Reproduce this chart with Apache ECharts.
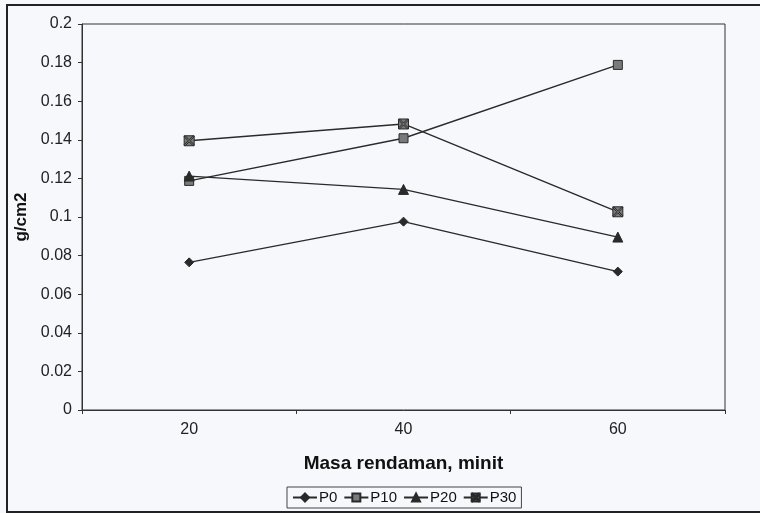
<!DOCTYPE html>
<html>
<head>
<meta charset="utf-8">
<script src="https://cdn.jsdelivr.net/npm/echarts@6/dist/echarts.min.js"></script>
<style>
html,body{margin:0;padding:0;background:#f6f8fb;}
#c{width:760px;height:513px;}
</style>
</head>
<body>
<div id="c"></div>
<script>
var categories = ['20', '40', '60'];
var seriesNames = ['P0', 'P10', 'P20', 'P30'];
var P0 = [0.0765, 0.0976, 0.0717];
var P10 = [0.1187, 0.1408, 0.1788];
var P20 = [0.1212, 0.1143, 0.0896];
var P30 = [0.1395, 0.1482, 0.1027];
var yTicks = { min: 0, max: 0.2, interval: 0.02 };

var symbols = [
  'diamond',
  'rect',
  'triangle',
  'path://M0,0L10,0L10,10L0,10Z M1,0L5,4L9,0L10,1L6,5L10,9L9,10L5,6L1,10L0,9L4,5L0,1Z'
];
var sizes = [9, 9, 10, 10];
var values = [P0, P10, P20, P30];

var chart = echarts.init(document.getElementById('c'));
var font = 'Liberation Sans, Arial, sans-serif';
var series = seriesNames.map(function (n, i) {
  return {
    name: n,
    type: 'line',
    data: values[i],
    symbol: symbols[i],
    symbolSize: sizes[i],
    showAllSymbol: true,
    lineStyle: { color: '#2a2a2a', width: 1.4 },
    itemStyle: { color: i === 0 || i === 2 ? '#2a2a2a' : '#7a7a7a', borderColor: '#2a2a2a', borderWidth: 1 },
    emphasis: { disabled: true },
    animation: false
  };
});

chart.setOption({
  backgroundColor: '#f6f8fb',
  animation: false,
  grid: { left: 82, right: 35, top: 24, bottom: 103, show: true, borderColor: '#333', borderWidth: 1, backgroundColor: 'transparent' },
  graphic: [{
    type: 'rect', shape: { x: 7, y: 5, width: 770, height: 507 },
    style: { fill: 'none', stroke: '#222', lineWidth: 2 }, silent: true
  }],
  xAxis: {
    type: 'category',
    data: categories,
    boundaryGap: true,
    name: 'Masa rendaman, minit',
    nameLocation: 'middle',
    nameGap: 44,
    nameTextStyle: { fontFamily: font, fontSize: 19, fontWeight: 'bold', color: '#111' },
    axisLine: { lineStyle: { color: '#333', width: 1 } },
    axisTick: { show: true, length: 4, inside: false, lineStyle: { color: '#333' } },
    axisLabel: { fontFamily: font, fontSize: 16, color: '#222', margin: 12 },
    splitLine: { show: false }
  },
  yAxis: {
    type: 'value',
    min: yTicks.min,
    max: yTicks.max,
    interval: yTicks.interval,
    name: 'g/cm2',
    nameLocation: 'middle',
    nameGap: 52,
    nameTextStyle: { fontFamily: font, fontSize: 17, fontWeight: 'bold', color: '#111' },
    axisLine: { show: true, lineStyle: { color: '#333', width: 1 } },
    axisTick: { show: true, length: 4, lineStyle: { color: '#333' } },
    axisLabel: { fontFamily: font, fontSize: 16, color: '#222', margin: 10,
      formatter: function (v) { return String(parseFloat(v.toFixed(2))); } },
    splitLine: { show: false }
  },
  legend: {
    data: seriesNames,
    left: 287,
    top: 487,
    orient: 'horizontal',
    borderColor: '#444',
    borderWidth: 1,
    padding: [3, 5],
    itemGap: 6,
    itemWidth: 24,
    itemHeight: 10,
    textStyle: { fontFamily: font, fontSize: 15, color: '#111', padding: [0, 0, 0, -3] },
    selectedMode: false
  },
  series: series
});
</script>
</body>
</html>
